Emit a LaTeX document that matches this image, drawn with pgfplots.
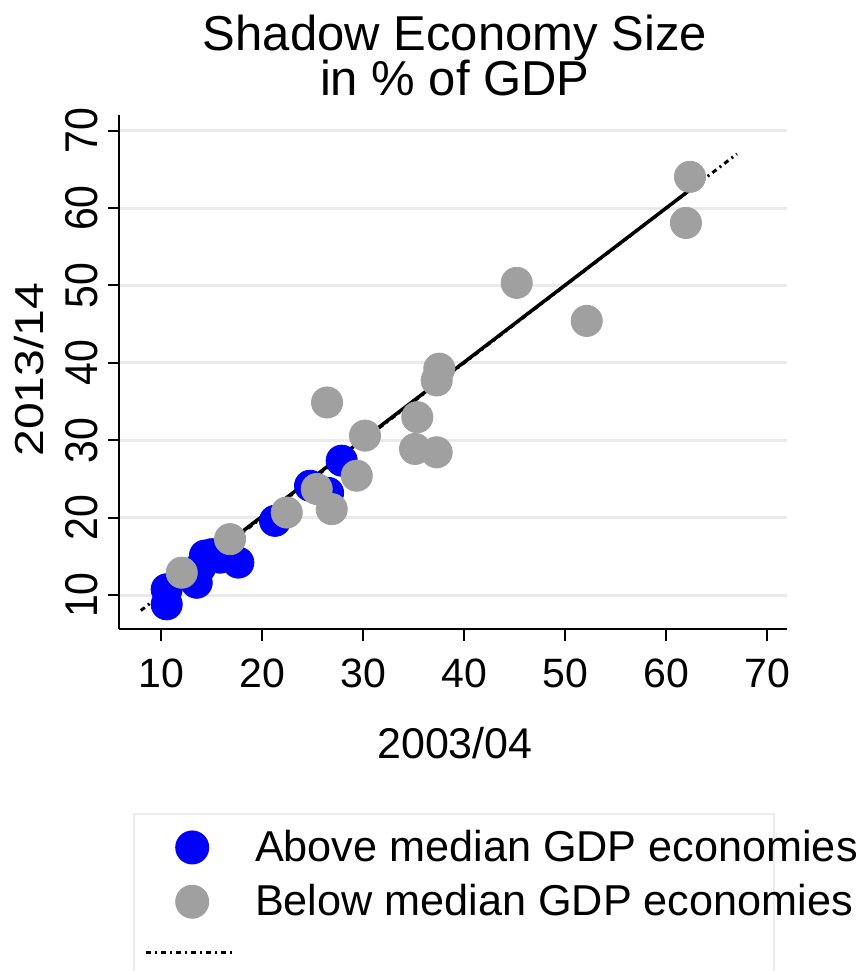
\documentclass[border=0pt]{standalone}
\usepackage{pgfplots}
\pgfplotsset{compat=1.18}
\usepackage{fontspec}
\setmainfont{Liberation Sans}
\definecolor{sblue}{RGB}{0,0,255}
\definecolor{sgray}{RGB}{160,160,160}
\definecolor{sgrid}{RGB}{234,234,234}
\definecolor{sframe}{RGB}{236,236,236}

\pgfplotstableread{
x y
10.56 10.74
10.56 8.80
13.53 11.59
13.86 13.54
14.35 15.10
15.02 15.27
15.84 14.83
17.65 14.19
21.28 19.59
24.75 24.12
26.53 23.20
27.88 27.36
}\above

\pgfplotstableread{
x y
12.05 12.89
16.83 17.22
22.44 20.66
25.41 23.70
26.89 21.10
29.37 25.42
30.19 30.60
26.43 34.88
35.14 28.88
37.28 28.44
35.36 32.98
37.28 37.73
37.54 39.25
52.13 45.42
45.20 50.34
61.95 58.08
62.35 64.04
}\below

\begin{document}
\begin{tikzpicture}
\begin{axis}[
  at={(0,0)}, anchor=south west,
  scale only axis, width=333.75pt, height=257.05pt,
  xmin=5.89, xmax=71.95, ymin=5.57, ymax=72,
  clip=false,
  axis lines*=left,
  axis line style={-, line width=1pt, black},
  xtick={10,20,...,70}, ytick={10,20,...,70},
  tick align=outside, major tick length=5.75pt,
  tick style={black, line width=1pt},
  ymajorgrids, grid style={sgrid, line width=1.5pt},
  /pgf/number format/assume math mode=true,
  tick label style={font=\fontsize{20.5}{24}\selectfont},
  xticklabel style={anchor=north, inner sep=0pt, text height=23pt},
  yticklabel style={rotate=90, anchor=south, inner sep=0pt},
  yticklabel shift=5pt,
  yticklabel={\scalebox{1.0}[1.12]{\pgfmathprintnumber{\tick}}},
  xlabel={2003/04},
  xlabel style={at={(axis description cs:0.5025,0)}, anchor=base, yshift=-64.35pt, inner sep=0pt, font=\fontsize{21.5}{25}\selectfont},
  ylabel={\scalebox{1.12}[0.94]{2013/14}},
  ylabel style={at={(axis description cs:-0.1139,0.505)}, anchor=base, rotate=0, inner sep=0pt, font=\fontsize{21.5}{25}\selectfont},
  legend style={at={(axis description cs:0.0198,-0.3579)}, anchor=north west,
    draw=sframe, line width=1pt, inner xsep=5.3pt, inner ysep=6pt,
    font=\fontsize{21.6}{25}\selectfont, row sep=6pt,
    /tikz/every odd column/.append style={column sep=8.5pt}},
  legend cell align=left,
]
\addplot[only marks, mark=*, mark size=7.8pt, color=sblue,
  legend image code/.code={\fill[sblue] (23.2pt,0) circle (8pt); \path (0,0) (43.35pt,0);}]
  table {\above};
\addlegendentry{\makebox[252pt][l]{Above median GDP economies}}
\addplot[only marks, mark=*, mark size=7.8pt, color=sgray,
  legend image code/.code={\fill[sgray] (23.2pt,0) circle (8pt); \path (0,0) (43.35pt,0);}]
  table {\below};
\addlegendentry{\makebox[252pt][l]{Below median GDP economies}}
\addplot[black, line width=1.75pt, forget plot] coordinates {(10.0,10.2) (63.0,63.0)};
\addplot[black, line width=1.5pt, dash pattern=on 2.5pt off 2pt on 1pt off 2pt,
  legend image code/.code={\draw[black, line width=1.5pt, dash pattern=on 2.5pt off 2pt on 1pt off 2pt] (0,2.5pt) -- (43.35pt,2.5pt);}]
  coordinates {(8,8) (67,67)};
\addlegendentry{\makebox[252pt][l]{\strut}}
\node[anchor=base, inner sep=0pt, font=\fontsize{24.5}{28}\selectfont] at (axis description cs:0.5025,1) [yshift=32.6pt] {Shadow Economy Size};
\node[anchor=base, inner sep=0pt, font=\fontsize{24.5}{28}\selectfont] at (axis description cs:0.5025,1) [yshift=10.1pt] {in \% of GDP};
\end{axis}
\pgfresetboundingbox
\path (-59.75pt,-170.85pt) rectangle (370.25pt,314.65pt);
\end{tikzpicture}
\end{document}
